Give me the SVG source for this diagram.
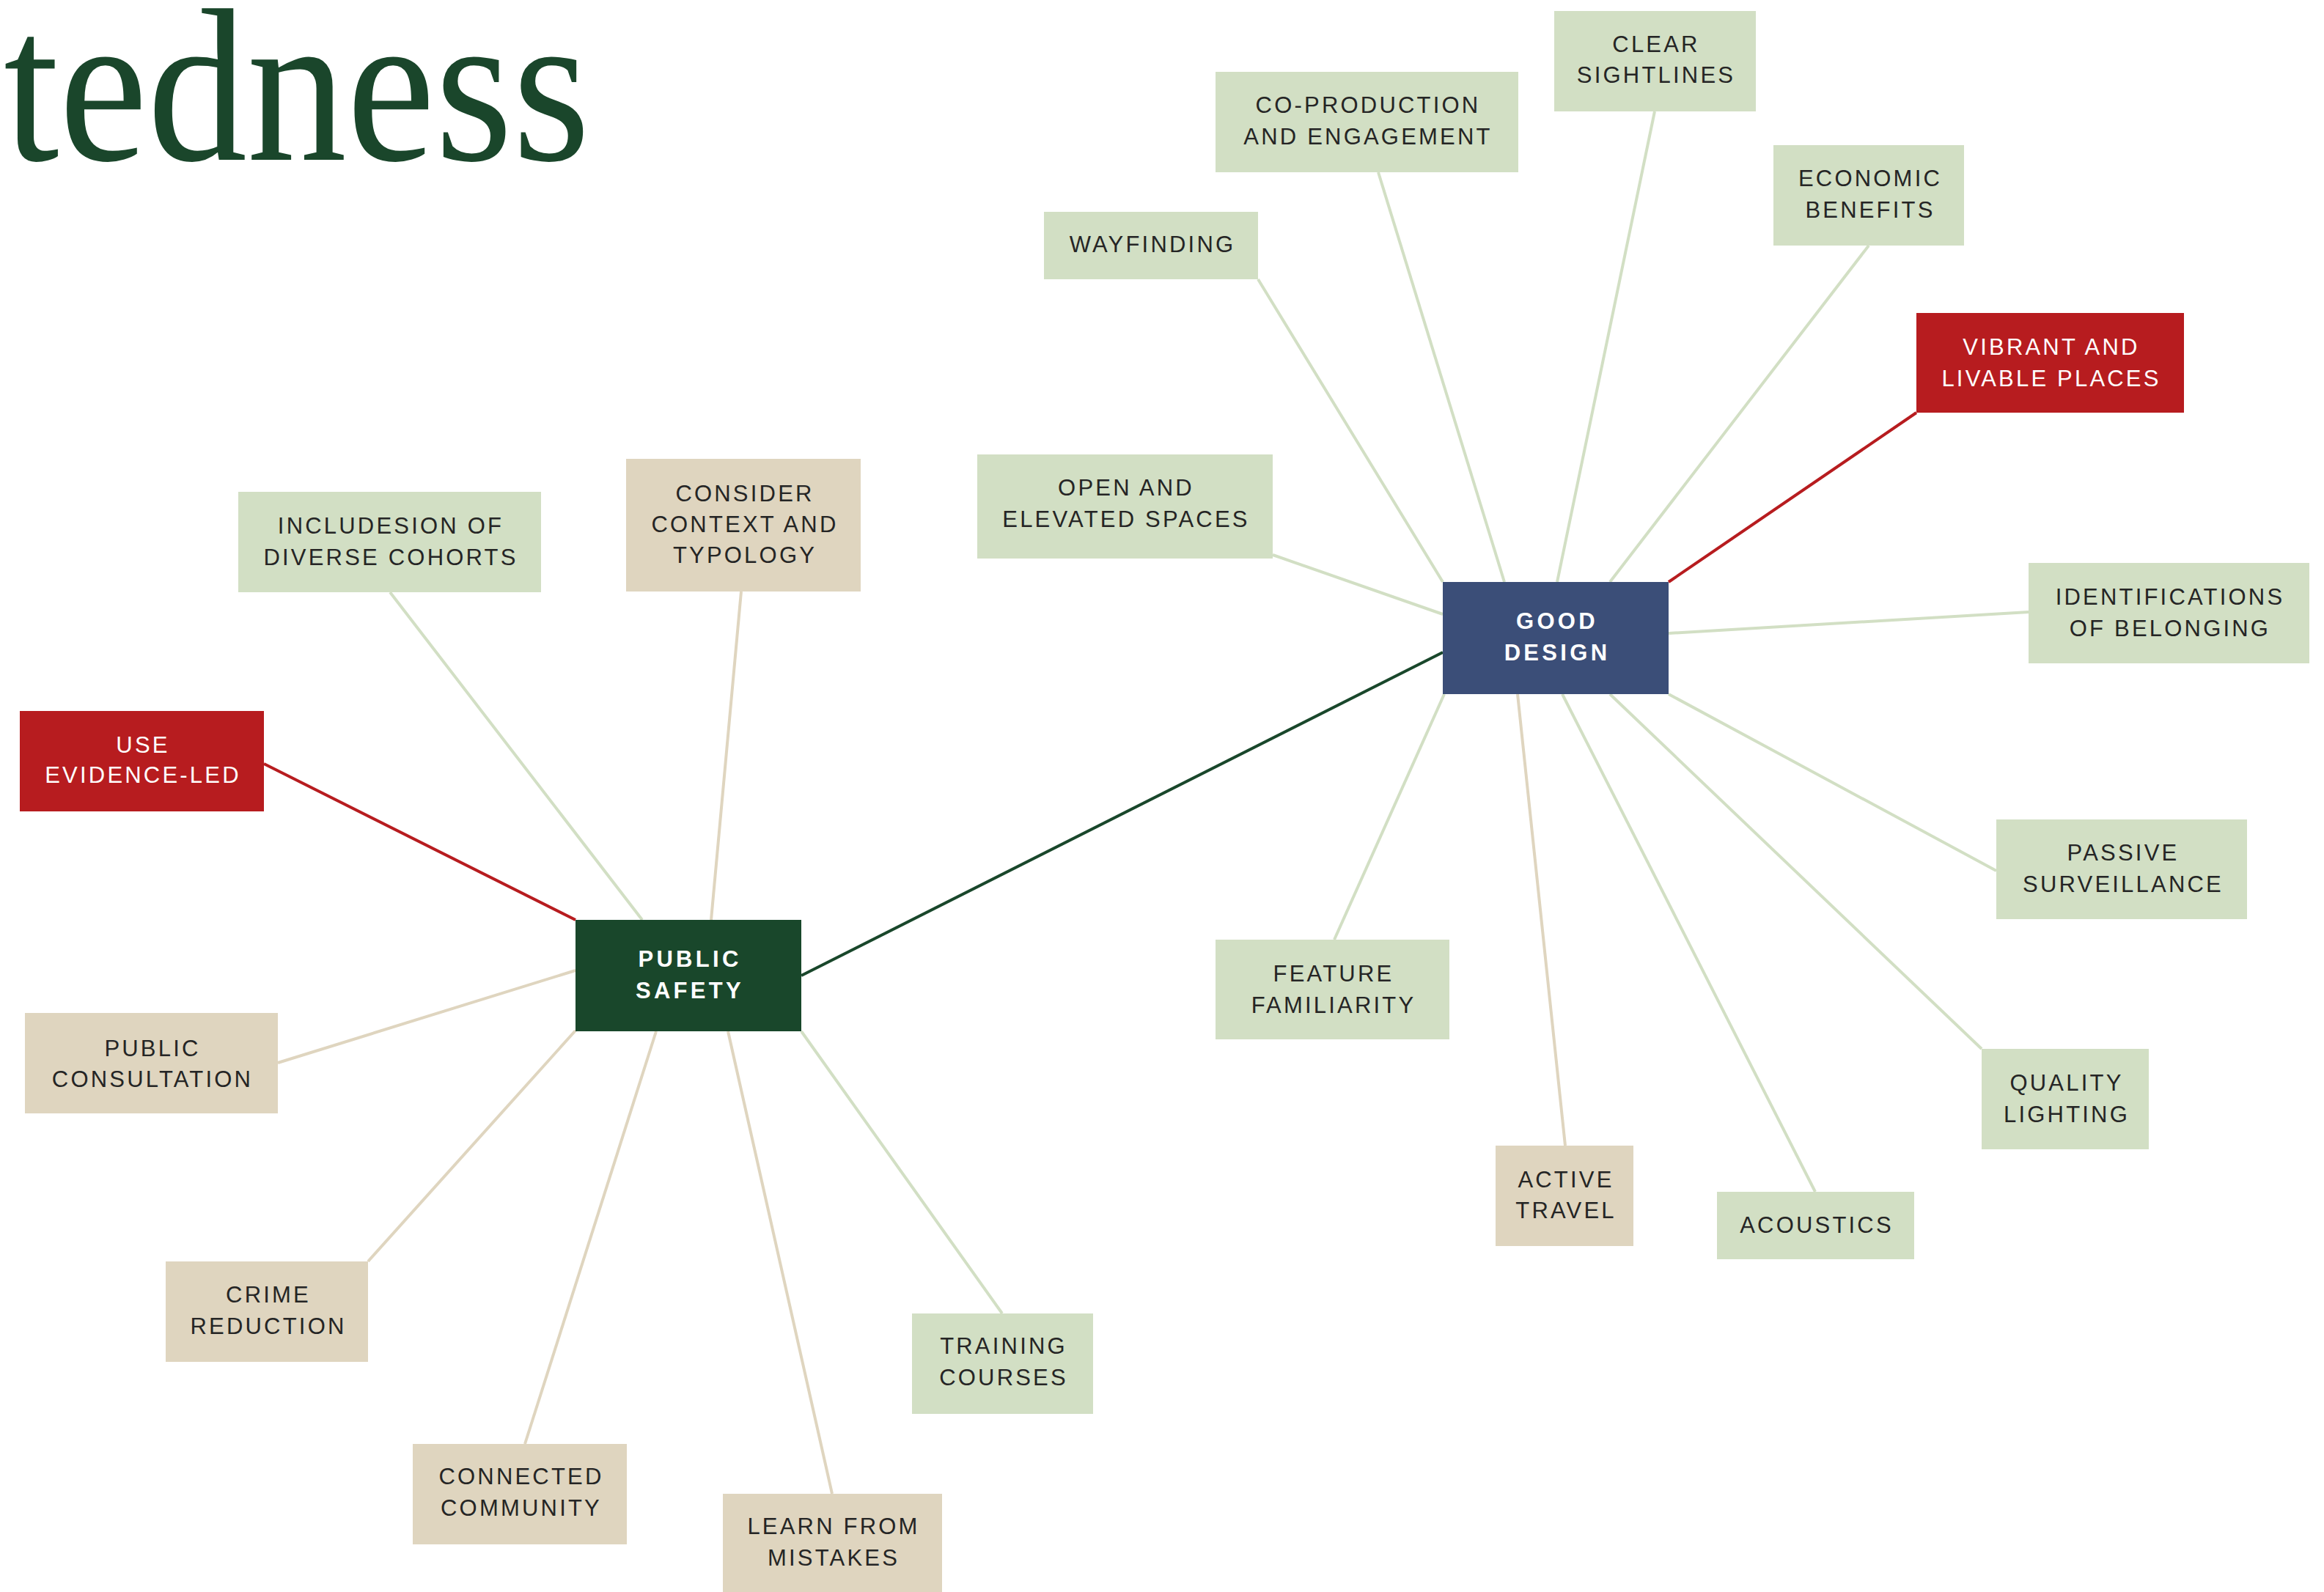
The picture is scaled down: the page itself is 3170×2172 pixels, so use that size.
<svg xmlns="http://www.w3.org/2000/svg" width="3170" height="2172" viewBox="0 0 3170 2172">
<style>
.lbl{font-family:"Liberation Sans",Arial,sans-serif;font-size:31px;letter-spacing:3.2px;text-anchor:middle;fill:#252525}
.w{fill:#ffffff}
.b{font-weight:bold;letter-spacing:4.3px}
.g{fill:#d2dfc4}
.t{fill:#dfd5bf}
.r{fill:#b71c1f}
.c line{stroke-width:4;stroke-linecap:butt}
.lg{stroke:#d2dfc4}
.lt{stroke:#dfd5bf}
.lr{stroke:#b71c1f}
.ld{stroke:#19472b}
</style>
<rect width="3170" height="2172" fill="#ffffff"/>
<text x="5" y="218" font-family="Liberation Serif, 'Times New Roman', serif" font-size="298" fill="#1a462b" textLength="800" lengthAdjust="spacingAndGlyphs">tedness</text>
<g id="connectors" class="c">
<line class="lg" x1="1716" y1="381" x2="1968" y2="794"/>
<line class="lg" x1="1880" y1="235" x2="2052" y2="794"/>
<line class="lg" x1="2257" y1="152" x2="2124" y2="794"/>
<line class="lg" x1="2549" y1="335" x2="2196" y2="794"/>
<line class="lr" x1="2614" y1="563" x2="2276" y2="794"/>
<line class="lg" x1="1736" y1="757" x2="1968" y2="838"/>
<line class="lg" x1="2276" y1="864" x2="2767" y2="835"/>
<line class="lg" x1="2276" y1="947" x2="2723" y2="1188"/>
<line class="lg" x1="2196" y1="947" x2="2703" y2="1431"/>
<line class="lg" x1="2131" y1="947" x2="2476" y2="1626"/>
<line class="lt" x1="2070" y1="947" x2="2135" y2="1563"/>
<line class="lg" x1="1970" y1="947" x2="1820" y2="1282"/>
<line class="ld" x1="1093" y1="1331" x2="1968" y2="890"/>
<line class="lr" x1="360" y1="1042" x2="785" y2="1255"/>
<line class="lg" x1="532" y1="808" x2="876" y2="1255"/>
<line class="lt" x1="1011" y1="807" x2="970" y2="1255"/>
<line class="lt" x1="379" y1="1450" x2="785" y2="1324"/>
<line class="lt" x1="502" y1="1721" x2="785" y2="1406"/>
<line class="lt" x1="716" y1="1970" x2="895" y2="1407"/>
<line class="lt" x1="1135" y1="2038" x2="993" y2="1407"/>
<line class="lg" x1="1367" y1="1792" x2="1093" y2="1407"/>
</g>
<g id="good-design"><rect x="1968" y="794" width="308" height="153" fill="#3b4e78"/><text class="lbl w b" x="2124" y="858">GOOD</text><text class="lbl w b" x="2124" y="901">DESIGN</text></g>
<g id="public-safety"><rect x="785" y="1255" width="308" height="152" fill="#19472b"/><text class="lbl w b" x="941" y="1319">PUBLIC</text><text class="lbl w b" x="941" y="1362">SAFETY</text></g>
<g id="use-evidence-led"><rect class="r" x="27" y="970" width="333" height="137"/><text class="lbl w" x="195" y="1027">USE</text><text class="lbl w" x="195" y="1068">EVIDENCE-LED</text></g>
<g id="vibrant"><rect class="r" x="2614" y="427" width="365" height="136"/><text class="lbl w" x="2798" y="484">VIBRANT AND</text><text class="lbl w" x="2798" y="527">LIVABLE PLACES</text></g>
<g id="economic"><rect class="g" x="2419" y="198" width="260" height="137"/><text class="lbl" x="2551" y="254">ECONOMIC</text><text class="lbl" x="2551" y="297">BENEFITS</text></g>
<g id="clear-sightlines"><rect class="g" x="2120" y="15" width="275" height="137"/><text class="lbl" x="2259" y="71">CLEAR</text><text class="lbl" x="2259" y="113">SIGHTLINES</text></g>
<g id="co-production"><rect class="g" x="1658" y="98" width="413" height="137"/><text class="lbl" x="1866" y="154">CO-PRODUCTION</text><text class="lbl" x="1866" y="197">AND ENGAGEMENT</text></g>
<g id="wayfinding"><rect class="g" x="1424" y="289" width="292" height="92"/><text class="lbl" x="1572" y="344">WAYFINDING</text></g>
<g id="open-elevated"><rect class="g" x="1333" y="620" width="403" height="142"/><text class="lbl" x="1536" y="676">OPEN AND</text><text class="lbl" x="1536" y="719">ELEVATED SPACES</text></g>
<g id="identifications"><rect class="g" x="2767" y="768" width="383" height="137"/><text class="lbl" x="2960" y="825">IDENTIFICATIONS</text><text class="lbl" x="2960" y="868">OF BELONGING</text></g>
<g id="passive"><rect class="g" x="2723" y="1118" width="342" height="136"/><text class="lbl" x="2896" y="1174">PASSIVE</text><text class="lbl" x="2896" y="1217">SURVEILLANCE</text></g>
<g id="feature"><rect class="g" x="1658" y="1282" width="319" height="136"/><text class="lbl" x="1819" y="1339">FEATURE</text><text class="lbl" x="1819" y="1382">FAMILIARITY</text></g>
<g id="quality-lighting"><rect class="g" x="2703" y="1431" width="228" height="137"/><text class="lbl" x="2819" y="1488">QUALITY</text><text class="lbl" x="2819" y="1531">LIGHTING</text></g>
<g id="active-travel"><rect class="t" x="2040" y="1563" width="188" height="137"/><text class="lbl" x="2136" y="1620">ACTIVE</text><text class="lbl" x="2136" y="1662">TRAVEL</text></g>
<g id="acoustics"><rect class="g" x="2342" y="1626" width="269" height="92"/><text class="lbl" x="2478" y="1682">ACOUSTICS</text></g>
<g id="includesion"><rect class="g" x="325" y="671" width="413" height="137"/><text class="lbl" x="533" y="728">INCLUDESION OF</text><text class="lbl" x="533" y="771">DIVERSE COHORTS</text></g>
<g id="consider"><rect class="t" x="854" y="626" width="320" height="181"/><text class="lbl" x="1016" y="684">CONSIDER</text><text class="lbl" x="1016" y="726">CONTEXT AND</text><text class="lbl" x="1016" y="768">TYPOLOGY</text></g>
<g id="public-consultation"><rect class="t" x="34" y="1382" width="345" height="137"/><text class="lbl" x="208" y="1441">PUBLIC</text><text class="lbl" x="208" y="1483">CONSULTATION</text></g>
<g id="crime-reduction"><rect class="t" x="226" y="1721" width="276" height="137"/><text class="lbl" x="366" y="1777">CRIME</text><text class="lbl" x="366" y="1820">REDUCTION</text></g>
<g id="connected-community"><rect class="t" x="563" y="1970" width="292" height="137"/><text class="lbl" x="711" y="2025">CONNECTED</text><text class="lbl" x="711" y="2068">COMMUNITY</text></g>
<g id="learn-from-mistakes"><rect class="t" x="986" y="2038" width="299" height="134"/><text class="lbl" x="1137" y="2093">LEARN FROM</text><text class="lbl" x="1137" y="2136">MISTAKES</text></g>
<g id="training-courses"><rect class="g" x="1244" y="1792" width="247" height="137"/><text class="lbl" x="1369" y="1847">TRAINING</text><text class="lbl" x="1369" y="1890">COURSES</text></g>
</svg>
